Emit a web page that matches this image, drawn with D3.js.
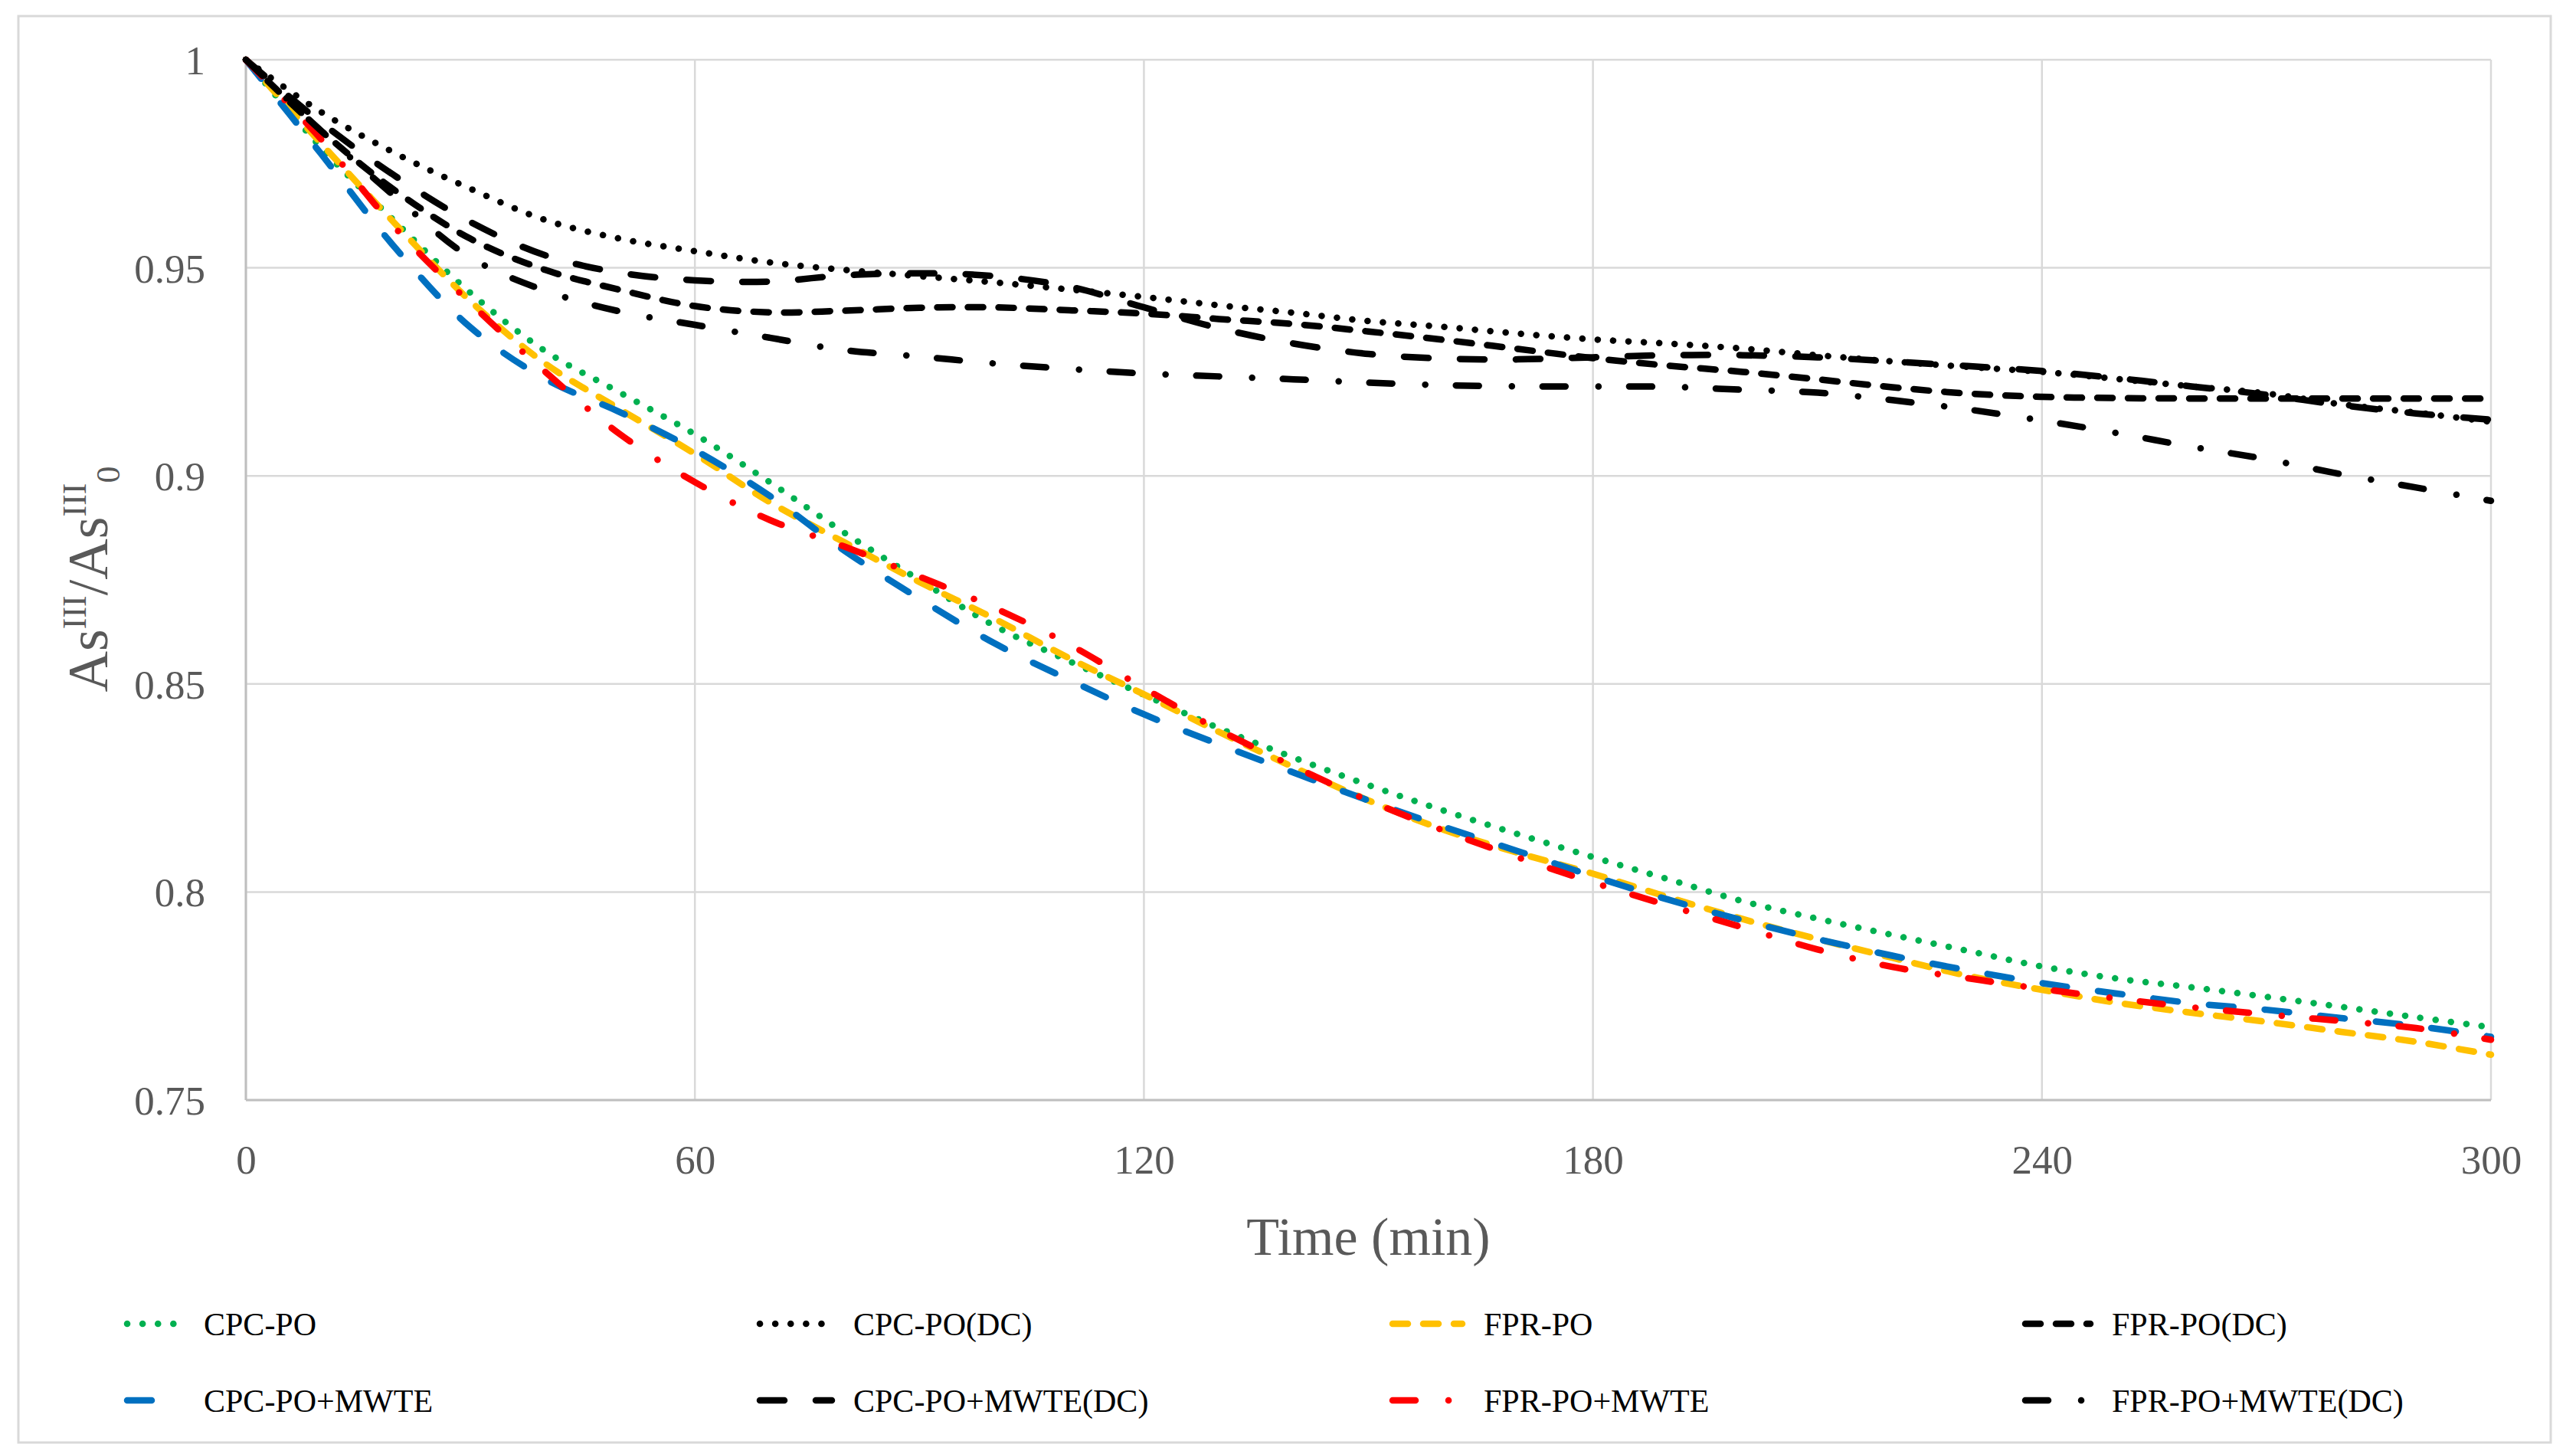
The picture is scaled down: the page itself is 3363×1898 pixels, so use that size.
<!DOCTYPE html>
<html>
<head>
<meta charset="utf-8">
<script src="https://cdn.jsdelivr.net/npm/d3@7/dist/d3.min.js"></script>
<style>
  html, body { margin: 0; padding: 0; background: #fff; }
  svg { display: block; }
  text { font-family: "Liberation Serif", "Times New Roman", serif; }
</style>
</head>
<body>
<svg id="chart" width="3363" height="1898"></svg>
<script>
// sampling times (min)
const times = [0, 10, 20, 30, 40, 50, 60, 70, 80, 90, 100, 110, 120, 130, 140, 150,
  160, 170, 180, 190, 200, 210, 220, 230, 240, 250, 260, 270, 280, 290, 300]

// As(III)/As(III)0
const cpcPO = [1, .979, .961, .944, .930, .920, .910, .8985, .8863, .875, .864, .8555, .8474,
  .8394, .8323, .8257, .8196, .8139, .8084, .8031, .7978, .7936, .7897, .7859, .7821, .7792,
  .7771, .7748, .7724, .7699, .7675]
const cpcPODC = [1, .9875, .9775, .969, .9615, .957, .954, .9513, .9495, .948, .9465, .9448,
  .943, .941, .9392, .9372, .9358, .9342, .9328, .9318, .9306, .929, .9275, .9262, .925,
  .9233, .9215, .9198, .9172, .9152, .913]
const fprPO = [1, .98, .9605, .942, .927, .916, .9053, .8937, .884, .8745, .8657, .8562, .8475,
  .8385, .83, .822, .815, .8094, .8044, .7988, .7935, .7887, .7842, .7799, .7765, .7734, .771,
  .7688, .7664, .764, .7609]
const fprPODC = [1, .983, .9685, .957, .9495, .9447, .9408, .9393, .9397, .9404, .9405, .9398,
  .939, .9377, .9365, .9347, .9327, .9305, .9283, .9265, .925, .9232, .9213, .9198, .919,
  .9187, .9186, .9186, .9186, .9186, .9186]
const cpcMW = [1, .9775, .9547, .9357, .9233, .9153, .9062, .8952, .882, .8705, .8598, .851,
  .8427, .8355, .8287, .822, .8157, .8098, .8038, .7982, .7932, .7887, .7847, .7812, .7781,
  .7756, .7733, .7717, .7697, .7678, .7652]
const cpcMWDC = [1, .985, .972, .961, .953, .9488, .947, .9467, .9482, .9487, .948, .9455,
  .9405, .9355, .9318, .9293, .9282, .928, .9285, .929, .929, .9285, .9275, .9264, .9252,
  .9235, .9215, .9195, .917, .915, .9135]
const fprMW = [1, .981, .9595, .9415, .925, .910, .8985, .8894, .883, .8758, .8683, .8595,
  .849, .839, .8302, .822, .8148, .8083, .8023, .7968, .7915, .7862, .782, .7793, .7767,
  .7744, .7723, .7706, .769, .7673, .7645]
const fprMWDC = [1, .983, .967, .9525, .9445, .9395, .9363, .9332, .9302, .9287, .927, .9257,
  .9246, .9239, .9232, .9224, .9218, .9215, .9215, .9214, .9207, .92, .9182, .916, .9133,
  .9103, .907, .904, .9004, .8972, .894]

const seriesNames = ["CPC-PO", "CPC-PO(DC)", "FPR-PO", "FPR-PO(DC)",
  "CPC-PO+MWTE", "CPC-PO+MWTE(DC)", "FPR-PO+MWTE", "FPR-PO+MWTE(DC)"]
const seriesValues = [cpcPO, cpcPODC, fprPO, fprPODC, cpcMW, cpcMWDC, fprMW, fprMWDC]

const xTicks = [0, 60, 120, 180, 240, 300]
const yTicks = [0.75, 0.8, 0.85, 0.9, 0.95, 1]

// line looks, Excel style dashes
const dashes = {
  dot: "0.1,20",
  dash: "20,20",
  long: "32,41",
  longDot: "30,43,0.1,40"
}
const looks = {
  "CPC-PO": ["#00b050", dashes.dot],
  "CPC-PO(DC)": ["#000", dashes.dot],
  "FPR-PO": ["#ffc000", dashes.dash],
  "FPR-PO(DC)": ["#000", dashes.dash],
  "CPC-PO+MWTE": ["#0070c0", dashes.long],
  "CPC-PO+MWTE(DC)": ["#000", dashes.long],
  "FPR-PO+MWTE": ["#ff0000", dashes.longDot],
  "FPR-PO+MWTE(DC)": ["#000", dashes.longDot]
}

const svg = d3.select("#chart")
const plotLeft = 321, plotRight = 3252, plotTop = 78, plotBottom = 1436

const x = d3.scaleLinear().domain([0, 300]).range([plotLeft, plotRight])
const y = d3.scaleLinear().domain([0.75, 1]).range([plotBottom, plotTop])

// chart frame
svg.append("rect")
  .attr("x", 24).attr("y", 21).attr("width", 3306).attr("height", 1862)
  .attr("fill", "#fff").attr("stroke", "#d9d9d9").attr("stroke-width", 3)

// grid
svg.append("g").selectAll("line").data(yTicks).join("line")
  .attr("x1", x(0)).attr("x2", x(300))
  .attr("y1", d => y(d)).attr("y2", d => y(d))
  .attr("stroke", "#d9d9d9").attr("stroke-width", 2.5)
svg.append("g").selectAll("line").data(xTicks).join("line")
  .attr("x1", d => x(d)).attr("x2", d => x(d))
  .attr("y1", y(0.75)).attr("y2", y(1))
  .attr("stroke", "#d9d9d9").attr("stroke-width", 2.5)

// axis lines
svg.append("line")
  .attr("x1", x(0)).attr("x2", x(300)).attr("y1", y(0.75)).attr("y2", y(0.75))
  .attr("stroke", "#bfbfbf").attr("stroke-width", 3)
svg.append("line")
  .attr("x1", x(0)).attr("x2", x(0)).attr("y1", y(0.75)).attr("y2", y(1))
  .attr("stroke", "#bfbfbf").attr("stroke-width", 3)

// tick labels
let gx = svg.append("g").attr("transform", `translate(0,${plotBottom})`)
  .call(d3.axisBottom(x).tickValues(xTicks).tickSize(0).tickFormat(d3.format("d")))
gx.select(".domain").remove()
gx.selectAll("text")
  .attr("y", 77).attr("dy", "0.35em")
  .attr("font-size", 53).attr("fill", "#595959")
  .style("font-family", '"Liberation Serif", serif')

let gy = svg.append("g").attr("transform", `translate(${plotLeft},0)`)
  .call(d3.axisLeft(y).tickValues(yTicks).tickSize(0).tickFormat(d => String(+d.toFixed(2))))
gy.select(".domain").remove()
gy.selectAll("text")
  .attr("x", -53).attr("dy", "0.35em")
  .attr("font-size", 53).attr("fill", "#595959")
  .style("font-family", '"Liberation Serif", serif')

// axis titles
svg.append("text")
  .attr("x", (plotLeft + plotRight) / 2).attr("y", 1615).attr("dy", "0.33em")
  .attr("text-anchor", "middle").attr("font-size", 70).attr("fill", "#595959")
  .text("Time (min)")

let yt = svg.append("text")
  .attr("transform", "translate(140,756) rotate(-90)")
  .attr("text-anchor", "middle").attr("font-size", 74).attr("fill", "#595959")
yt.append("tspan").text("As")
yt.append("tspan").attr("dy", -28).attr("font-size", 44).text("III")
yt.append("tspan").attr("dy", 28).text("/As")
yt.append("tspan").attr("dy", -28).attr("font-size", 44).text("III")
yt.append("tspan").attr("dy", 44).attr("font-size", 44).text("0")

// series
const line = d3.line()
  .x((d, i) => x(times[i]))
  .y(d => y(d))
  .curve(d3.curveCatmullRom.alpha(0.5))

svg.append("g").selectAll("path").data(seriesNames).join("path")
  .attr("d", (name, i) => line(seriesValues[i]))
  .attr("fill", "none")
  .attr("stroke", name => looks[name][0])
  .attr("stroke-dasharray", name => looks[name][1])
  .attr("stroke-width", 8.5)
  .attr("stroke-linecap", "round")
  .attr("stroke-linejoin", "round")

// legend, 4 columns x 2 rows
const legendX = [266, 1114, 1937, 2757]
const legendSym = [-100, -122, -119, -113]
const legendY = [1728, 1828]
let legend = svg.append("g").selectAll("g").data(seriesNames).join("g")
  .attr("transform", (d, i) => `translate(${legendX[i % 4]},${legendY[Math.floor(i / 4)]})`)
legend.append("line")
  .attr("x1", (d, i) => legendSym[i % 4]).attr("x2", -28).attr("y1", 0).attr("y2", 0)
  .attr("stroke", d => looks[d][0])
  .attr("stroke-dasharray", d => looks[d][1])
  .attr("stroke-width", 8.5)
  .attr("stroke-linecap", "round")
legend.append("text")
  .attr("dy", "0.35em").attr("font-size", 42).attr("fill", "#000")
  .text(d => d)
</script>
</body>
</html>
